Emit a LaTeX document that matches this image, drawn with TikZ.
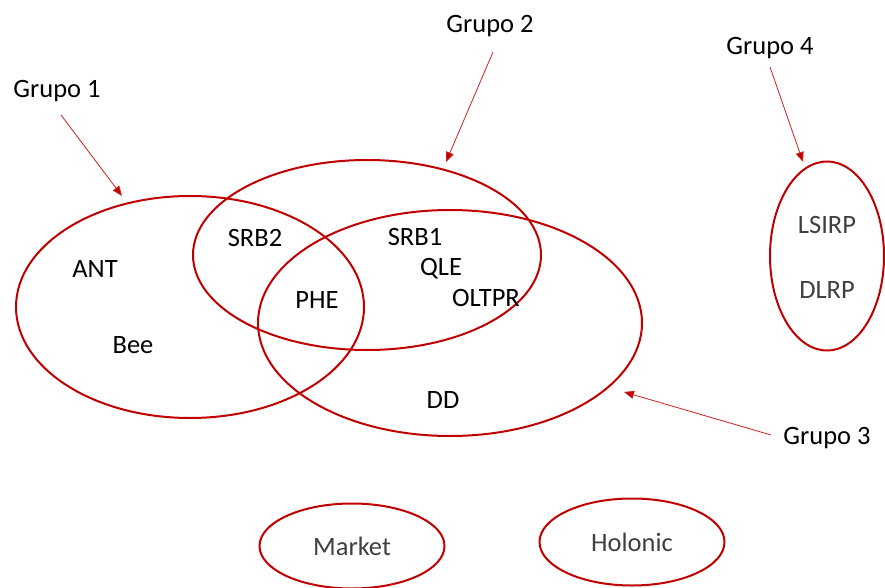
\documentclass[tikz,border=0pt]{standalone}
\usepackage{fontspec}
\setmainfont{Carlito}
\usetikzlibrary{shapes.geometric,arrows.meta}
\definecolor{setred}{HTML}{C00000}
\definecolor{arrred}{HTML}{D02020}
\definecolor{softgray}{HTML}{404040}
\begin{document}
\begin{tikzpicture}[x=1pt,y=-1pt,
  setring/.style={draw=setred,line width=2pt,ellipse,inner sep=0pt},
  member/.style={font=\fontsize{26.5}{30}\selectfont,text=black,inner sep=0pt},
  dimmember/.style={member,text=softgray},
  grouplabel/.style={font=\fontsize{26.5}{30}\selectfont,text=black,inner sep=0pt},
  pointer/.style={draw=arrred,line width=0.8pt,
    -{Triangle[length=10pt,width=8pt,fill=setred]}}]
\useasboundingbox (0,0) rectangle (885,588);

% overlapping groups
\node[setring,minimum width=348pt,minimum height=222pt] (e1) at (190,307) {};
\node[setring,minimum width=348pt,minimum height=190pt] (e2) at (367,255) {};
\node[setring,minimum width=384pt,minimum height=226pt] (e3) at (450,323) {};
\node[setring,minimum width=114pt,minimum height=189pt] (e4) at (827,256) {};
\node[setring,minimum width=185pt,minimum height=85pt,font=\fontsize{26.5}{30}\selectfont,text=softgray] (em) at (352,546) {Market};
\node[setring,minimum width=185pt,minimum height=87pt,font=\fontsize{26.5}{30}\selectfont,text=softgray] (eh) at (632,542) {Holonic};

% members
\node[member] (ant) at (95,269) {ANT};
\node[member] (bee) at (133,345) {Bee};
\node[member] (srb2) at (255,238) {SRB2};
\node[member] (srb1) at (415,237) {SRB1};
\node[member] (qle) at (441,269) {QLE};
\node[member] (oltpr) at (486,298) {OLTPR};
\node[member] (phe) at (317,300) {PHE};
\node[member] (dd) at (443,400) {DD};
\node[dimmember] (lsirp) at (827,225) {LSIRP};
\node[dimmember] (dlrp) at (827,290) {DLRP};

% group labels
\node[grouplabel] (g1) at (57,91) {Grupo 1};
\node[grouplabel] (g2) at (490,26) {Grupo 2};
\node[grouplabel] (g4) at (770,48) {Grupo 4};
\node[grouplabel] (g3) at (827,438) {Grupo 3};

% arrow ends: tails just off each label, tips at the rings
\coordinate (s1) at (61,115);  \coordinate (t1) at (122,196);
\coordinate (s2) at (493,52);  \coordinate (t2) at (446,162);
\coordinate (s4) at (770,67);  \coordinate (t4) at (803,162);
\coordinate (s3) at (771,435); \coordinate (t3) at (624,392);

\draw[pointer] (s1) -- (t1);
\draw[pointer] (s2) -- (t2);
\draw[pointer] (s4) -- (t4);
\draw[pointer] (s3) -- (t3);
\end{tikzpicture}
\end{document}
